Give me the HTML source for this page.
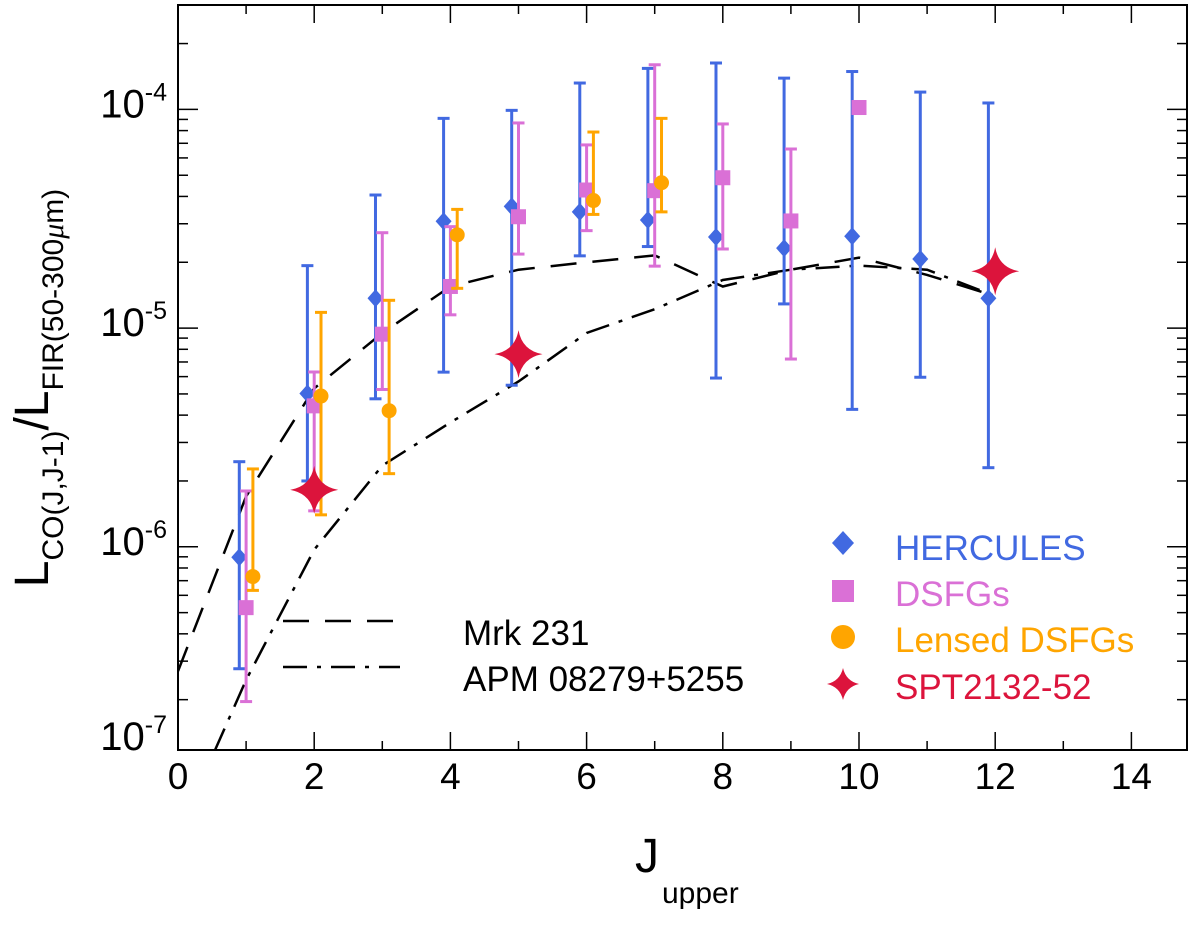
<!DOCTYPE html>
<html><head><meta charset="utf-8"><style>
body{margin:0;background:#fff;}
svg{display:block;font-family:"Liberation Sans",Helvetica,Arial,sans-serif;}
</style></head><body>
<svg id="chart" width="1200" height="927" viewBox="0 0 1200 927" xmlns="http://www.w3.org/2000/svg">
<g id="marks"></g>
</svg>
<script>
const jValues = [1,2,3,4,5,6,7,8,9,10,11,12];
const hercVal = [8.96e-7,5.02e-6,1.37e-5,3.08e-5,3.6e-5,3.4e-5,3.12e-5,2.61e-5,2.32e-5,2.63e-5,2.07e-5,1.37e-5];
const hercHi  = [2.45e-6,1.93e-5,4.06e-5,9.1e-5,9.9e-5,1.32e-4,1.54e-4,1.63e-4,1.39e-4,1.49e-4,1.2e-4,1.07e-4];
const hercLo  = [2.77e-7,2.0e-6,4.75e-6,6.29e-6,5.48e-6,2.14e-5,2.36e-5,5.91e-6,1.29e-5,4.25e-6,5.96e-6,2.3e-6];
const dsfgJ   = [1,2,3,4,5,6,7,8,9,10];
const dsfgVal = [5.27e-7,4.41e-6,9.38e-6,1.55e-5,3.23e-5,4.28e-5,4.25e-5,4.87e-5,3.09e-5,1.02e-4];
const dsfgHi  = [1.8e-6,6.3e-6,2.73e-5,2.91e-5,8.67e-5,6.88e-5,1.6e-4,8.58e-5,6.59e-5,1.02e-4];
const dsfgLo  = [1.96e-7,1.46e-6,5.24e-6,1.15e-5,2.18e-5,2.79e-5,1.92e-5,2.3e-5,7.22e-6,1.02e-4];
const lensJ   = [1,2,3,4,6,7];
const lensVal = [7.31e-7,4.89e-6,4.19e-6,2.67e-5,3.83e-5,4.62e-5];
const lensHi  = [2.27e-6,1.18e-5,1.34e-5,3.49e-5,7.88e-5,9.1e-5];
const lensLo  = [6.32e-7,1.4e-6,2.16e-6,1.52e-5,3.31e-5,3.4e-5];
const sptJ    = [2,5,12];
const sptVal  = [1.82e-6,7.6e-6,1.82e-5];
const mrkJ    = [0,1,2,3,4,5,6,7,8,9,10,11,12];
const mrkVal  = [2.7e-7,1.7e-6,5.3e-6,9.5e-6,1.55e-5,1.85e-5,2.0e-5,2.15e-5,1.55e-5,1.85e-5,2.1e-5,1.75e-5,1.4e-5];
const apmJ    = [0.54,1,2,3,4,5,6,7,8,9,10,11,12];
const apmVal  = [1.17e-7,2.46e-7,9.7e-7,2.35e-6,3.7e-6,5.7e-6,9.5e-6,1.22e-5,1.66e-5,1.85e-5,1.93e-5,1.85e-5,1.4e-5];
const xTicks  = [0,2,4,6,8,10,12,14];
const yExps   = [-4,-5,-6,-7];

const L=178,R=1187,T=5,B=750;
const X=j=>L+j*68.1;
const Y=v=>109.4+(-4-Math.log10(v))*218.7;
const NS="http://www.w3.org/2000/svg";
const svg=document.getElementById('marks');
function mk(tag,attrs,parent){const e=document.createElementNS(NS,tag);for(const k in attrs)e.setAttribute(k,attrs[k]);(parent||svg).appendChild(e);return e;}

function curve(js,vs,dash,name){
  let d=js.map((j,i)=>(i?'L':'M')+X(j).toFixed(1)+','+Y(vs[i]).toFixed(1)).join(' ');
  const p=mk('path',{d:d,fill:'none',stroke:'#000','stroke-width':2.5,'stroke-dasharray':dash});
  
  
}
const clip=mk('clipPath',{id:'pc'});mk('rect',{x:L,y:T,width:R-L,height:B-T},clip);
curve(mrkJ,mrkVal,'26,16','mrk231-curve');
curve(apmJ,apmVal,'24,10,4,10','apm08279-curve');
document.querySelectorAll('path').forEach(p=>p.setAttribute('clip-path','url(#pc)'));

function errbar(x,lo,hi,col){
  const g=mk('g',{stroke:col,'stroke-width':3});
  mk('line',{x1:x,x2:x,y1:Y(hi),y2:Y(lo)},g);
  mk('line',{x1:x-6,x2:x+6,y1:Y(hi),y2:Y(hi)},g);
  mk('line',{x1:x-6,x2:x+6,y1:Y(lo),y2:Y(lo)},g);
  return g;
}
jValues.forEach((j,i)=>{
  const x=X(j-0.1),y=Y(hercVal[i]);
  const g=errbar(x,hercLo[i],hercHi[i],'#4169E1');
  
  
  const m=mk('polygon',{points:`${x},${y-9} ${x+8},${y} ${x},${y+9} ${x-8},${y}`,fill:'#4169E1'});
  
  
});
dsfgJ.forEach((j,i)=>{
  const x=X(j),y=Y(dsfgVal[i]);
  if(dsfgHi[i]!==dsfgLo[i]){const g=errbar(x,dsfgLo[i],dsfgHi[i],'#DA70D6');
  
  }
  const m=mk('rect',{x:x-7.5,y:y-7.5,width:15,height:15,fill:'#DA70D6'});
  
  
});
lensJ.forEach((j,i)=>{
  const x=X(j+0.1),y=Y(lensVal[i]);
  const g=errbar(x,lensLo[i],lensHi[i],'#FFA500');
  
  
  const m=mk('circle',{cx:x,cy:y,r:7.5,fill:'#FFA500'});
  
  
});
function star(x,y,s){return `M${x},${y-s} Q${x+s*0.15},${y-s*0.15} ${x+s},${y} Q${x+s*0.15},${y+s*0.15} ${x},${y+s} Q${x-s*0.15},${y+s*0.15} ${x-s},${y} Q${x-s*0.15},${y-s*0.15} ${x},${y-s}Z`;}
sptJ.forEach((j,i)=>{
  const m=mk('path',{d:star(X(j),Y(sptVal[i]),24),fill:'#DC143C'});
  
  
});

const fr=mk('rect',{x:L,y:T,width:R-L,height:B-T,fill:'none',stroke:'#000','stroke-width':2});


for(let j=0;j<=14;j++){
  const x=X(j),len=j%2?9:18;
  mk('line',{x1:x,x2:x,y1:B,y2:B-len,stroke:'#000','stroke-width':1.5});
  mk('line',{x1:x,x2:x,y1:T,y2:T+len,stroke:'#000','stroke-width':1.5});
}
xTicks.forEach(t=>{
  const tx=mk('text',{x:X(t),y:789,'font-size':37,'text-anchor':'middle'});tx.textContent=t;
  
  
});
for(let e=-7;e<=-4;e++){for(let m=1;m<10;m++){
  const v=m*Math.pow(10,e),y=Y(v);if(y<T||y>B)continue;
  const len=m===1?20:10;
  mk('line',{x1:L,x2:L+len,y1:y,y2:y,stroke:'#000','stroke-width':1.5});
  mk('line',{x1:R,x2:R-len,y1:y,y2:y,stroke:'#000','stroke-width':1.5});
}}
yExps.forEach(e=>{
  const y=Math.min(Y(Math.pow(10,e)),742);
  const tx=mk('text',{x:167,y:y+8,'font-size':40,'text-anchor':'end'});
  tx.innerHTML='10<tspan font-size="25" dy="-17">'+e+'</tspan>';
  
  
});
</script>
<svg width="1200" height="927" style="position:absolute;left:0;top:0" xmlns="http://www.w3.org/2000/svg">
<g>
<text x="635" y="872" font-size="48" font-family="Liberation Sans, sans-serif">J</text>
<text x="662" y="903" font-size="30" font-family="Liberation Sans, sans-serif">upper</text>
</g>
<g transform="translate(48,388) rotate(-90)">
<text x="0" y="0" font-size="48" text-anchor="middle" font-family="Liberation Sans, sans-serif">L<tspan font-size="30" dy="15">CO(J,J-1)</tspan><tspan font-size="48" dy="-15">/L</tspan><tspan font-size="30" dy="15">FIR(50-300<tspan font-family="Liberation Serif, serif" font-style="italic">μ</tspan>m)</tspan></text>
</g>
<g font-family="Liberation Sans, sans-serif" font-size="35">
<line x1="283" x2="400" y1="621" y2="621" stroke="#000" stroke-width="2.5" stroke-dasharray="26,16"/>
<text x="463" y="645">Mrk 231</text>
<line x1="283" x2="400" y1="667" y2="667" stroke="#000" stroke-width="2.5" stroke-dasharray="24,10,4,10"/>
<text x="463" y="691">APM 08279+5255</text>
</g>
<g font-family="Liberation Sans, sans-serif" font-size="35">
<polygon points="843,531 854,543 843,555 832,543" fill="#4169E1"/>
<text x="895" y="560" fill="#4169E1">HERCULES</text>
<rect x="832" y="580" width="22" height="22" fill="#DA70D6"/>
<text x="895" y="606" fill="#DA70D6">DSFGs</text>
<circle cx="843" cy="637" r="12" fill="#FFA500"/>
<text x="895" y="652" fill="#FFA500">Lensed DSFGs</text>
<path d="M843,668 Q846,681 859,684 Q846,687 843,700 Q840,687 827,684 Q840,681 843,668Z" fill="#DC143C"/>
<text x="895" y="699" fill="#DC143C">SPT2132-52</text>
</g>
</svg>
</body></html>
